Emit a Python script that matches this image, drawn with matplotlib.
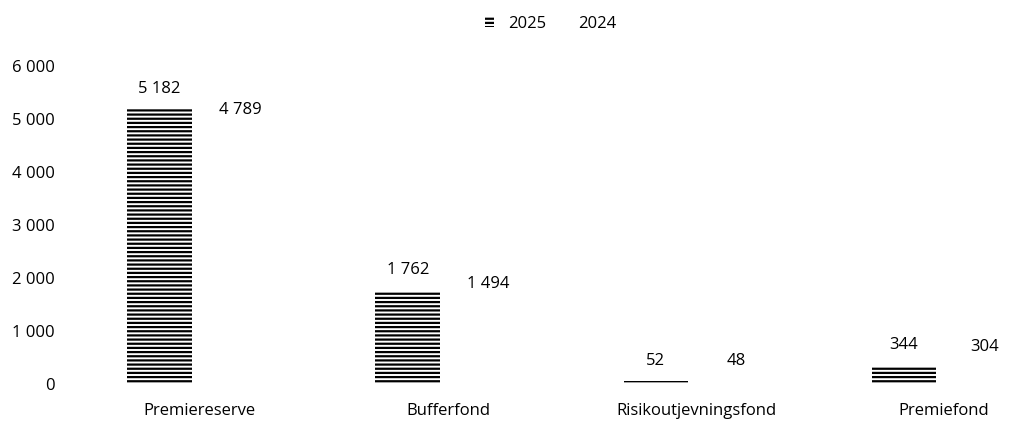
import matplotlib.pyplot as plt
import numpy as np

categories = ["Premiereserve", "Bufferfond", "Risikoutjevningsfond", "Premiefond"]
values_2025 = [5182, 1762, 52, 344]
values_2024 = [4789, 1494, 48, 304]
labels_2025 = ["5 182", "1 762", "52", "344"]
labels_2024 = ["4 789", "1 494", "48", "304"]
yticks = [0, 1000, 2000, 3000, 4000, 5000, 6000]
ytick_labels = ["0", "1 000", "2 000", "3 000", "4 000", "5 000", "6 000"]

plt.rcParams['font.family'] = ['Open Sans', 'DejaVu Sans']
plt.rcParams['hatch.linewidth'] = 1.6

fig = plt.figure(figsize=(10.11, 4.21), dpi=100)
ax = fig.add_axes([0.075, 0.088, 0.925, 0.755])

x = np.arange(len(categories))
w = 0.26
off = 0.162
fs = 12

ax.bar(x - off, values_2025, w, facecolor="white", edgecolor="black",
       linewidth=0, hatch="----", label="2025")
ax.bar(x + off, values_2024, w, facecolor="white", edgecolor="white",
       linewidth=0, label="2024")

for xi, v, lab in zip(x - off, values_2025, labels_2025):
    ax.annotate(lab, (xi, v), xytext=(0, 9), textcoords="offset points",
                ha="center", va="bottom", fontsize=fs)
for xi, v, lab in zip(x + off, values_2024, labels_2024):
    ax.annotate(lab, (xi, v), xytext=(0, 9), textcoords="offset points",
                ha="center", va="bottom", fontsize=fs)

ax.set_xlim(-0.5, 3.27)
ax.set_ylim(0, 6000)
ax.set_yticks(yticks)
ax.set_yticklabels(ytick_labels, fontsize=fs)
ax.set_xticks(x)
ax.set_xticklabels(categories, fontsize=fs)
ax.tick_params(axis="both", length=0)
ax.tick_params(axis="y", pad=15)
ax.tick_params(axis="x", pad=14)
for s in ax.spines.values():
    s.set_visible(False)

ax.legend(loc="upper center", bbox_to_anchor=(0.508, 1.205), ncol=2,
          frameon=False, fontsize=fs, handlelength=0.5, handleheight=0.5,
          columnspacing=0.6, handletextpad=0.85)

fig.savefig("out.png", dpi=100)
